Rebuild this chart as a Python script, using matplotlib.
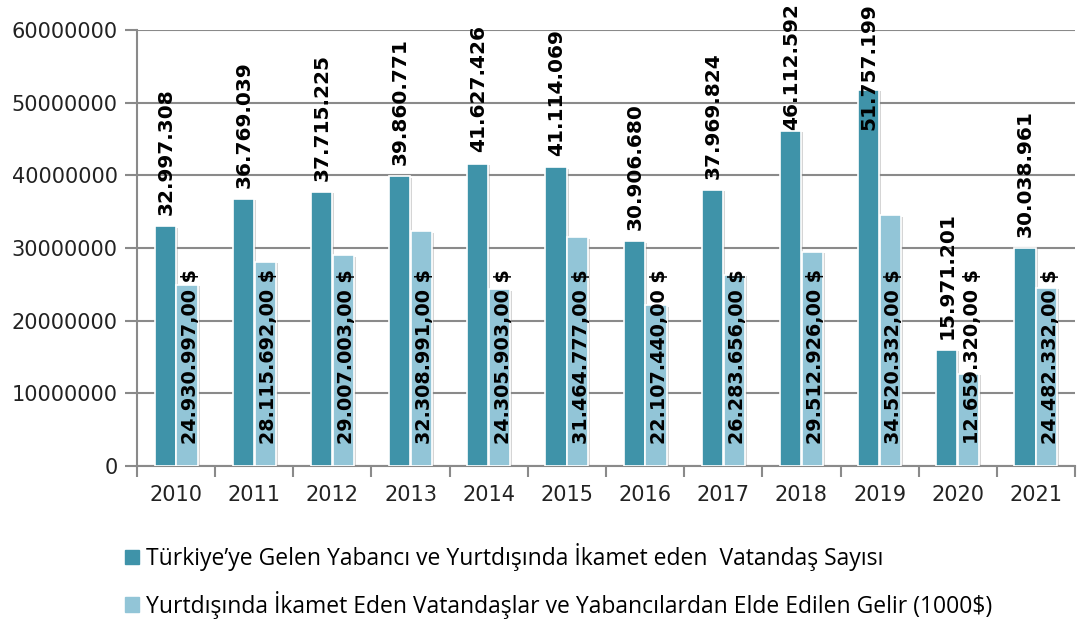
import matplotlib
matplotlib.use("Agg")
import matplotlib.pyplot as plt
import matplotlib.patheffects as pe
import numpy as np
from matplotlib.patches import Patch

years = ["2010", "2011", "2012", "2013", "2014", "2015", "2016", "2017", "2018", "2019", "2020", "2021"]
visitors = [32997308, 36769039, 37715225, 39860771, 41627426, 41114069, 30906680, 37969824,
            46112592, 51757199, 15971201, 30038961]
income = [24930997, 28115692, 29007003, 32308991, 24305903, 31464777, 22107440, 26283656,
          29512926, 34520332, 12659320, 24482332]
series_names = ["Türkiye’ye Gelen Yabancı ve Yurtdışında İkamet eden  Vatandaş Sayısı",
                "Yurtdışında İkamet Eden Vatandaşlar ve Yabancılardan Elde Edilen Gelir (1000$)"]
yticks = [0, 10000000, 20000000, 30000000, 40000000, 50000000, 60000000]

dark = "#3f93a9"
light = "#92c5d7"
grid_c = "#8a8a8a"

def fmt_int(v):
    return f"{v:,}".replace(",", ".")

W, H = 1082, 621
fig = plt.figure(figsize=(W/100, H/100), dpi=100)
ax = fig.add_axes([137/W, 1-466/H, (1075-137)/W, (466-30)/H])

x = np.arange(len(years))
w = 0.27
off = 0.14
shadow = [pe.SimplePatchShadow(offset=(1.5, -1.0), shadow_rgbFace="#888888", alpha=0.35), pe.Normal()]
bars1 = ax.bar(x - off, visitors, w, color=dark, edgecolor="white", linewidth=1.2, zorder=3)
bars2 = ax.bar(x + off, income, w, color=light, edgecolor="white", linewidth=1.2, zorder=3)
for b in list(bars1) + list(bars2):
    b.set_path_effects(shadow)

top_labels = []
for xi, v in zip(x, visitors):
    t = ax.annotate(fmt_int(v), (xi - off, v), xytext=(0.5, 8), textcoords="offset points",
                    rotation=90, ha="center", va="bottom", fontsize=14.5, fontweight="bold",
                    color="black", zorder=5, annotation_clip=False)
    top_labels.append(t)
for xi, v in zip(x, income):
    ax.annotate(fmt_int(v) + ",00 $", (xi + off, 0), xytext=(2.5, 16), textcoords="offset points",
                rotation=90, ha="center", va="bottom", fontsize=13.8, fontweight="bold",
                color="black", zorder=5)

ax.set_xlim(-0.5, len(years) - 0.5)
ax.set_ylim(0, 60000000)
ax.set_yticks(yticks)
ax.set_yticklabels([str(t) for t in yticks], fontsize=15, color="#222222")
ax.set_xticks(x)
ax.set_xticklabels(years, fontsize=15, color="#222222")
ax.tick_params(axis="x", which="major", length=0, pad=14)
ax.set_xticks(np.arange(-0.5, len(years), 1.0), minor=True)
ax.tick_params(axis="x", which="minor", length=8, width=1.5, color=grid_c)
ax.tick_params(axis="y", length=9, width=1.5, color=grid_c, pad=5)
ax.yaxis.grid(True, color=grid_c, linewidth=1.5, zorder=0)
ax.set_axisbelow(True)
for s in ["top", "right"]:
    ax.spines[s].set_visible(False)
for s in ["left", "bottom"]:
    ax.spines[s].set_color(grid_c)
    ax.spines[s].set_linewidth(1.5)

handles = [Patch(color=dark), Patch(color=light)]
fig.legend(handles, series_names, loc="upper left", bbox_to_anchor=(116/W, 1-534/H),
           frameon=False, prop={"family": "Open Sans", "size": 16.5}, handlelength=0.6, handleheight=0.6,
           handletextpad=0.3, labelspacing=0.85, borderaxespad=0)

# keep top labels inside the figure (like the original chart does)
fig.canvas.draw()
r = fig.canvas.get_renderer()
for t in top_labels:
    bb = t.get_window_extent(r)
    over = bb.y1 - (H - 3)
    if over > 0:
        ox, oy = t.xyann
        t.xyann = (ox, oy - over * 72 / 100)

fig.savefig("out.png", dpi=100)
